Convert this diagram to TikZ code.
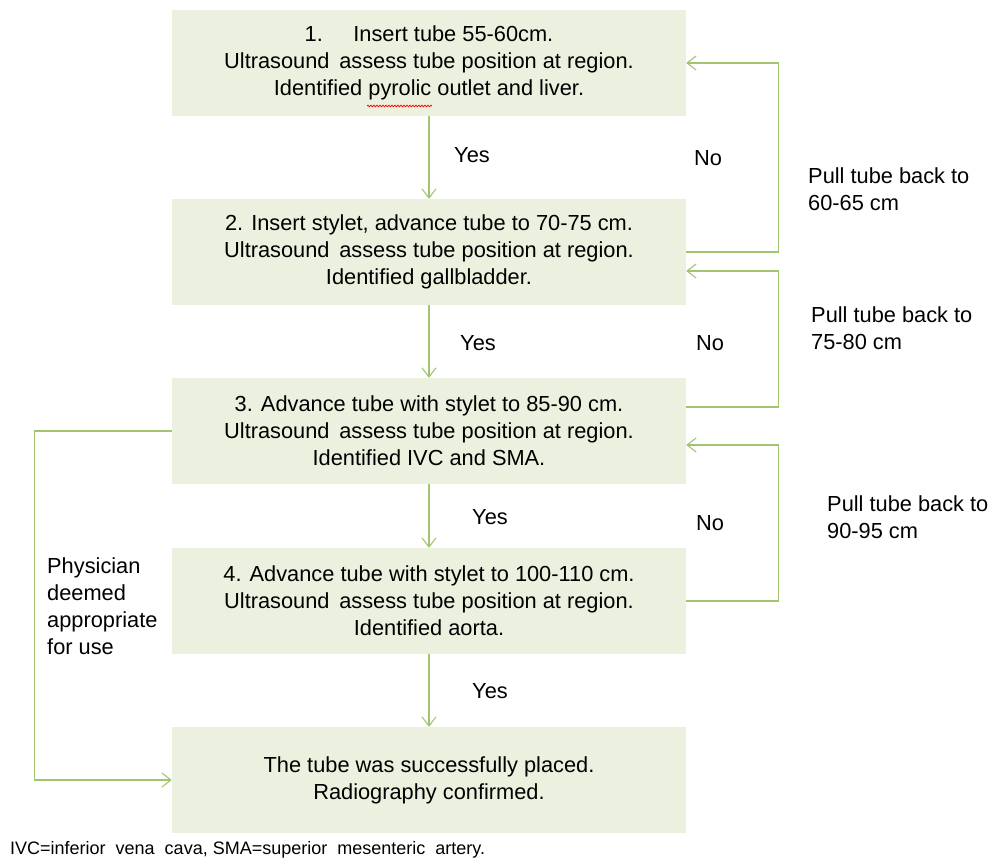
\documentclass[tikz,border=0pt]{standalone}
\usepackage{fontspec}
\setmainfont{Liberation Sans}
\usetikzlibrary{arrows.meta,decorations.pathmorphing}
\definecolor{boxgreen}{RGB}{235,241,222}
\definecolor{linegreen}{RGB}{160,196,112}
\newcommand\gap{\hspace{10pt}}
\begin{document}
\begin{tikzpicture}[x=1pt,y=-1pt,font=\fontsize{21.8}{27}\selectfont,
	stepbox/.style={fill=boxgreen,minimum width=514pt,minimum height=106pt,align=center,inner sep=0pt},
	arr/.style={draw=linegreen,line width=1.3pt,-{Straight Barb[length=9pt,width=14pt,line width=1.1pt]}},
	wavy/.style={draw=red,line width=0.7pt,decorate,decoration={snake,amplitude=0.9pt,segment length=3pt}}]
		\useasboundingbox (0,0) rectangle (993,862);
		\node[stepbox] (b1) at (429,63){1.\hspace{1.4em}Insert tube 55-60cm.\\Ultrasound\, assess tube position at region.\\Identified pyrolic outlet and liver.};
		\node[stepbox] (b2) at (429,252){2. Insert stylet, advance tube to 70-75 cm.\\Ultrasound\, assess tube position at region.\\Identified gallbladder.};
		\node[stepbox] (b3) at (429,431){3. Advance tube with stylet to 85-90 cm.\\Ultrasound\, assess tube position at region.\\Identified IVC and SMA.};
		\node[stepbox] (b4) at (429,601){4. Advance tube with stylet to 100-110 cm.\\Ultrasound\, assess tube position at region.\\Identified aorta.};
		\node[stepbox] (b5) at (429,780){The tube was successfully placed.\\Radiography confirmed.};
		\draw[wavy] (367,106)--(432,106);
		\draw[arr] (b1)--(b2);
		\draw[arr] (b2)--(b3);
		\draw[arr] (b3)--(b4);
		\draw[arr] (b4)--(b5);
		\draw[arr] (b2.east)--++(92,0)|-(b1.east);
		\draw[arr] ([yshift=24pt]b3.east)--++(92,0)|-([yshift=-19pt]b2.east);
		\draw[arr] (b4.east)--++(92,0)|-([yshift=-14pt]b3.east);
		\draw[arr] (b3.west)--++(-137,0)|-(b5.west);
		\node (yes1) at (472,155){Yes};
		\node (yes2) at (478,343){Yes};
		\node (yes3) at (490,517){Yes};
		\node (yes4) at (490,691){Yes};
		\node (no1) at (708,158){No};
		\node (no2) at (710,343){No};
		\node (no3) at (710,523){No};
		\node[anchor=west,align=left,inner sep=0pt] (pull1) at (808,189){Pull tube back to\\60-65 cm};
		\node[anchor=west,align=left,inner sep=0pt] (pull2) at (811,328){Pull tube back to\\75-80 cm};
		\node[anchor=west,align=left,inner sep=0pt] (pull3) at (827,517){Pull tube back to\\90-95 cm};
		\node[anchor=west,align=left,inner sep=0pt] (phys) at (47,606){Physician\\deemed\\appropriate\\for use};
		\node[anchor=west,inner sep=0pt,font=\fontsize{18}{20}\selectfont] (note) at (10,850){IVC=inferior\gap vena\gap cava, SMA=superior\gap mesenteric\gap artery.};
\end{tikzpicture}
\end{document}
